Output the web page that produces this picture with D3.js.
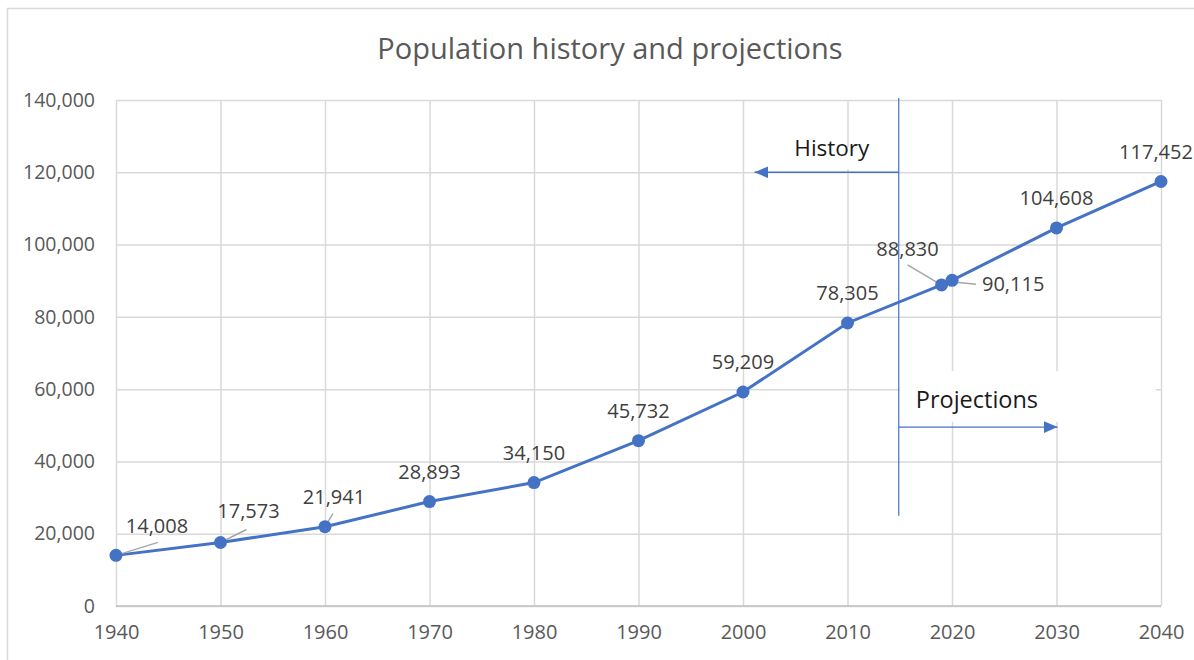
<!DOCTYPE html>
<html>
<head>
<meta charset="utf-8">
<script src="https://cdn.jsdelivr.net/npm/d3@7/dist/d3.min.js"></script>
<style>
  body { margin: 0; background: #fff; }
  text { font-family: "Open Sans", "Noto Sans", sans-serif; }
</style>
</head>
<body>
<div class="chart"></div>
<script>
var years = [1940, 1950, 1960, 1970, 1980, 1990, 2000, 2010, 2019, 2020, 2030, 2040];
var population = [14008, 17573, 21941, 28893, 34150, 45732, 59209, 78305, 88830, 90115, 104608, 117452];
var yTicks = [0, 20000, 40000, 60000, 80000, 100000, 120000, 140000];
var xTicks = [1940, 1950, 1960, 1970, 1980, 1990, 2000, 2010, 2020, 2030, 2040];

var svgWidth = 1194;
var svgHeight = 660;
var margin = { top: 100, right: 33, bottom: 54, left: 116 };
var width = svgWidth - margin.left - margin.right;
var height = svgHeight - margin.top - margin.bottom;

var svg = d3.select(".chart")
  .append("svg")
  .attr("width", svgWidth)
  .attr("height", svgHeight);

svg.append("rect")
  .attr("width", svgWidth).attr("height", svgHeight)
  .attr("fill", "#fff");

// chart frame
svg.append("rect")
  .attr("x", 7.5).attr("y", 8.5)
  .attr("width", svgWidth + 10).attr("height", svgHeight + 10)
  .attr("fill", "none")
  .attr("stroke", "#d9d9d9")
  .attr("stroke-width", 1.5);

svg.append("text")
  .attr("x", 610).attr("y", 59)
  .attr("text-anchor", "middle")
  .attr("fill", "#595959")
  .style("font-size", "29px")
  .text("Population history and projections");

var chartGroup = svg.append("g")
  .attr("transform", `translate(${margin.left}, ${margin.top})`);

var x = d3.scaleLinear().domain([1940, 2040]).range([0, width]);
var y = d3.scaleLinear().domain([0, 140000]).range([height, 0]);

// gridlines
chartGroup.append("g")
  .call(d3.axisLeft(y).tickValues(yTicks).tickSize(-width).tickFormat(""))
  .call(g => g.select(".domain").remove())
  .selectAll("line").attr("stroke", "#d9d9d9").attr("stroke-width", 1.5);

chartGroup.append("g")
  .attr("transform", `translate(0, ${height})`)
  .call(d3.axisBottom(x).tickValues(xTicks).tickSize(-height).tickFormat(""))
  .call(g => g.select(".domain").remove())
  .selectAll("line").attr("stroke", "#d9d9d9").attr("stroke-width", 1.5);

// baseline
chartGroup.append("line")
  .attr("x1", 0).attr("x2", width)
  .attr("y1", y(0)).attr("y2", y(0))
  .attr("stroke", "#bfbfbf").attr("stroke-width", 1.5);

// tick labels
var leftAxis = d3.axisLeft(y).tickValues(yTicks).tickSize(0).tickPadding(21)
  .tickFormat(d3.format(","));
chartGroup.append("g").call(leftAxis)
  .call(g => g.select(".domain").remove())
  .selectAll("text")
  .attr("fill", "#595959")
  .style("font-size", "19.5px");

var bottomAxis = d3.axisBottom(x).tickValues(xTicks).tickSize(0).tickPadding(19)
  .tickFormat(d3.format("d"));
chartGroup.append("g")
  .attr("transform", `translate(0, ${height})`)
  .call(bottomAxis)
  .call(g => g.select(".domain").remove())
  .selectAll("text")
  .attr("fill", "#595959")
  .style("font-size", "20px");

// annotation boxes (white backgrounds behind the labels)
var blue = "#4472c4";
chartGroup.append("rect")
  .attr("x", x(2003)).attr("y", y(127000))
  .attr("width", x(2015) - x(2003) - 4).attr("height", y(120000) - y(127000) - 3)
  .attr("fill", "#fff");
chartGroup.append("rect")
  .attr("x", x(2015)).attr("y", y(65000))
  .attr("width", x(2039.5) - x(2015)).attr("height", y(51000) - y(65000))
  .attr("fill", "#fff");

// divider
chartGroup.append("line")
  .attr("x1", x(2015) - 1).attr("x2", x(2015) - 1)
  .attr("y1", -2).attr("y2", y(25000))
  .attr("stroke", blue).attr("stroke-width", 1.2);

svg.append("defs").append("marker")
  .attr("id", "arrow")
  .attr("viewBox", "0 0 14 12")
  .attr("refX", 14).attr("refY", 6)
  .attr("markerWidth", 14).attr("markerHeight", 12)
  .attr("markerUnits", "userSpaceOnUse")
  .attr("orient", "auto")
  .append("path")
  .attr("d", "M0,0 L14,6 L0,12 Z")
  .attr("fill", blue);

chartGroup.append("line")
  .attr("x1", x(2015) - 1).attr("x2", x(2001.1))
  .attr("y1", y(120000)).attr("y2", y(120000))
  .attr("stroke", blue).attr("stroke-width", 1.4)
  .attr("marker-end", "url(#arrow)");
chartGroup.append("line")
  .attr("x1", x(2015) - 1).attr("x2", x(2030.1))
  .attr("y1", y(49500)).attr("y2", y(49500))
  .attr("stroke", blue).attr("stroke-width", 1.4)
  .attr("marker-end", "url(#arrow)");

chartGroup.append("text")
  .attr("x", x(2008.5)).attr("y", y(120000) - 16)
  .attr("text-anchor", "middle")
  .attr("fill", "#1a1a1a")
  .style("font-size", "22.5px")
  .text("History");
chartGroup.append("text")
  .attr("x", x(2015) + 16).attr("y", y(49500) - 19)
  .attr("fill", "#1a1a1a")
  .style("font-size", "23.5px")
  .text("Projections");

// series
var data = years.map((yr, i) => ({ year: yr, value: population[i] }));

var line = d3.line().x(d => x(d.year)).y(d => y(d.value));
chartGroup.append("path")
  .datum(data)
  .attr("d", line)
  .attr("fill", "none")
  .attr("stroke", blue)
  .attr("stroke-width", 3);

// label nudges: [dx, dy, anchor, leader]
var labelPos = {
  1940: [41, -22, "middle", [[0, 0], [42, -13]]],
  1950: [28, -24, "middle", [[0, 0], [26, -13]]],
  1960: [9, -23, "middle", [[0, 0], [8, -13]]],
  2019: [-34, -29, "middle", [[-2, -1], [-34, -20]]],
  2020: [30, 11, "start", [[4, 2], [24, 4]]],
  2040: [-5, -22, "middle", null]
};

chartGroup.selectAll(".leader")
  .data(data.filter(d => labelPos[d.year] && labelPos[d.year][3]))
  .enter()
  .append("polyline")
  .attr("class", "leader")
  .attr("points", d => labelPos[d.year][3]
    .map(p => [x(d.year) + p[0], y(d.value) + p[1]].join(",")).join(" "))
  .attr("fill", "none")
  .attr("stroke", "#a6a6a6")
  .attr("stroke-width", 1.5);

chartGroup.selectAll("circle")
  .data(data)
  .enter()
  .append("circle")
  .attr("cx", d => x(d.year))
  .attr("cy", d => y(d.value))
  .attr("r", 6.5)
  .attr("fill", blue);

chartGroup.selectAll(".dlabel")
  .data(data)
  .enter()
  .append("text")
  .attr("class", "dlabel")
  .attr("x", d => x(d.year) + (labelPos[d.year] ? labelPos[d.year][0] : 0))
  .attr("y", d => y(d.value) + (labelPos[d.year] ? labelPos[d.year][1] : -23))
  .attr("text-anchor", d => labelPos[d.year] ? labelPos[d.year][2] : "middle")
  .attr("fill", "#404040")
  .style("font-size", "20px")
  .text(d => d3.format(",")(d.value));
</script>
</body>
</html>
